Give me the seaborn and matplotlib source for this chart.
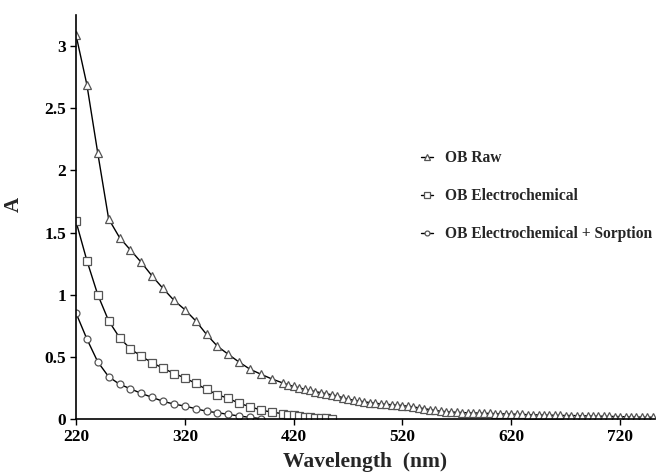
import matplotlib
matplotlib.use("Agg")
import matplotlib.pyplot as plt
import numpy as np
import pandas as pd
import seaborn as sns

# wavelengths (nm) and absorbance
raw_nm = [220, 230, 240, 250, 260, 270, 280, 290, 300, 310, 320, 330, 340, 350,
          360, 370, 380, 390, 400, 410, 415, 420, 425, 430, 435, 440, 445, 450,
          455, 460, 465, 470, 475, 480, 485, 490, 495, 500, 505, 510, 515, 520,
          525, 530, 535, 540, 545, 550, 555, 560, 565, 570, 575, 580, 585, 590,
          595, 600, 605, 610, 615, 620, 625, 630, 635, 640, 645, 650, 655, 660,
          665, 670, 675, 680, 685, 690, 695, 700, 705, 710, 715, 720, 725, 730,
          735, 740, 745, 750]
raw_a = [3.09, 2.69, 2.14, 1.61, 1.46, 1.36, 1.26, 1.15, 1.05, 0.955, 0.88, 0.79,
         0.68, 0.585, 0.52, 0.457, 0.40, 0.36, 0.322, 0.29, 0.275, 0.262, 0.25,
         0.24, 0.23, 0.22, 0.212, 0.203, 0.195, 0.185, 0.172, 0.16, 0.152, 0.145,
         0.138, 0.132, 0.127, 0.122, 0.118, 0.115, 0.112, 0.108, 0.103, 0.097,
         0.09, 0.083, 0.076, 0.069, 0.063, 0.059, 0.056, 0.054, 0.052, 0.05,
         0.049, 0.048, 0.046, 0.045, 0.043, 0.042, 0.041, 0.04, 0.038, 0.037,
         0.035, 0.034, 0.033, 0.032, 0.031, 0.03, 0.029, 0.028, 0.028, 0.027,
         0.026, 0.025, 0.024, 0.023, 0.022, 0.021, 0.02, 0.019, 0.018, 0.017,
         0.016, 0.015, 0.015, 0.014]

elec_nm = [220, 230, 240, 250, 260, 270, 280, 290, 300, 310, 320, 330, 340, 350,
           360, 370, 380, 390, 400, 410, 415, 420, 425, 430, 435, 440, 445, 450, 455]
elec_a = [1.59, 1.275, 1.00, 0.79, 0.655, 0.564, 0.505, 0.452, 0.409, 0.366,
          0.331, 0.286, 0.238, 0.195, 0.166, 0.126, 0.099, 0.072, 0.055, 0.043,
          0.036, 0.03, 0.025, 0.02, 0.016, 0.012, 0.009, 0.006, 0.004]

sorp_nm = [220, 230, 240, 250, 260, 270, 280, 290, 300, 310, 320, 330, 340, 350,
           360, 370, 380, 390]
sorp_a = [0.853, 0.644, 0.46, 0.34, 0.28, 0.243, 0.206, 0.174, 0.142, 0.12,
          0.104, 0.083, 0.062, 0.051, 0.037, 0.024, 0.013, 0.003]

labels = ["OB Raw", "OB Electrochemical", "OB Electrochemical + Sorption"]
markers = ["^", "s", "o"]

sns.set_style("ticks")
plt.rcParams["font.family"] = ["Liberation Serif", "DejaVu Serif"]
plt.rcParams["font.weight"] = "bold"

fig = plt.figure(figsize=(6.59, 4.75), dpi=100)
ax = fig.add_axes([0.1153, 0.1179, 0.8786, 0.8505])

series = [(raw_nm, raw_a), (elec_nm, elec_a), (sorp_nm, sorp_a)]
for (x, y), lab, m in zip(series, labels, markers):
    df = pd.DataFrame({"nm": x, "A": y})
    sns.lineplot(data=df, x="nm", y="A", ax=ax, color="black", lw=1.0,
                 marker=m, markersize=5.5 if m != "o" else 5,
                 markerfacecolor="white", markeredgecolor="#555555",
                 markeredgewidth=0.9, label=lab)

ax.set_xlim(220, 752)
ax.set_ylim(0, 3.25)
ax.set_xticks(np.arange(220, 721, 100))
ax.set_yticks([0, 0.5, 1, 1.5, 2, 2.5, 3])
ax.set_yticklabels(["0", "0.5", "1", "1.5", "2", "2.5", "3"])
ax.tick_params(axis="both", direction="out", length=4, width=1,
               labelsize=12.5, colors="black", pad=3)
for t in ax.get_xticklabels() + ax.get_yticklabels():
    t.set_fontweight("bold")

sns.despine(ax=ax)
for s in ["left", "bottom"]:
    ax.spines[s].set_linewidth(1.2)
    ax.spines[s].set_color("black")

ax.set_xlabel("Wavelength  (nm)", fontsize=15.5, fontweight="bold", labelpad=5)
ax.set_ylabel("A", fontsize=15, fontweight="bold", rotation=90)
ax.yaxis.set_label_coords(-0.09, 0.53)

leg = ax.legend(loc="upper left", bbox_to_anchor=(0.571, 0.70), frameon=False,
                fontsize=11.2, handlelength=0.8, handletextpad=0.75,
                labelspacing=1.42, markerscale=0.7)
for t in leg.get_texts():
    t.set_fontweight("bold")

fig.savefig("out.png", dpi=100)
